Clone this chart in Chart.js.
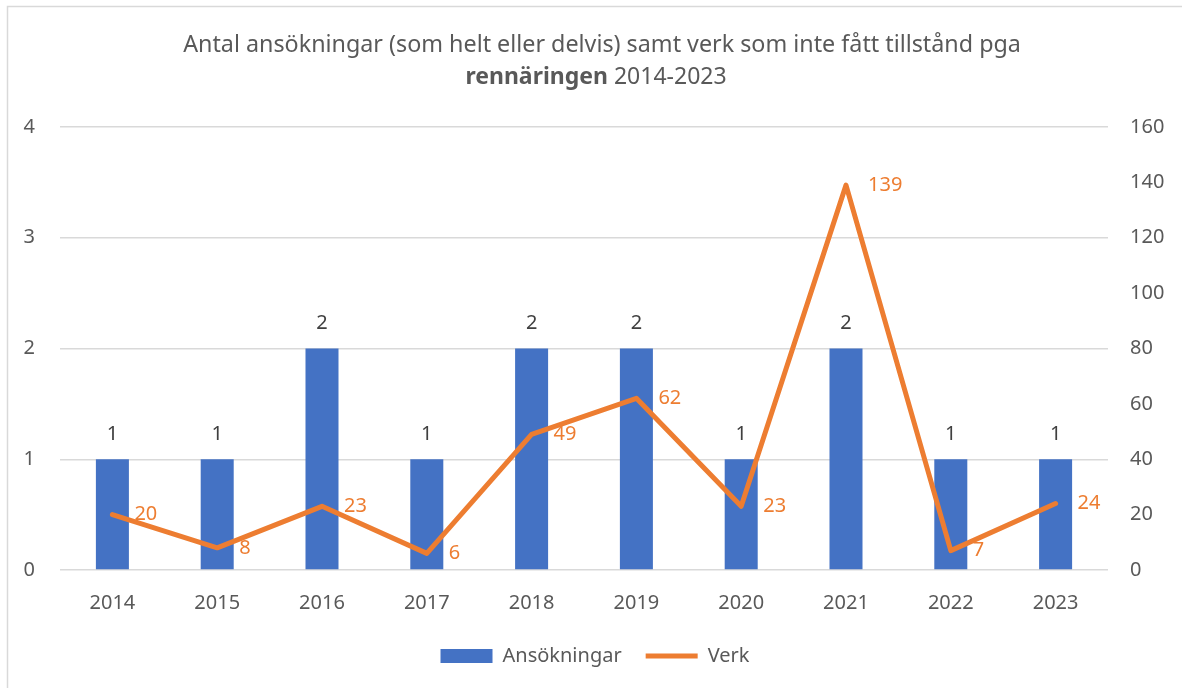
<!DOCTYPE html>
<html>
<head>
<meta charset="utf-8">
<script src="https://cdn.jsdelivr.net/npm/chart.js@4.4.1/dist/chart.umd.min.js"></script>
<style>
  body { margin: 0; background: #fff; }
  #wrap { width: 1182px; height: 688px; position: relative; }
</style>
</head>
<body>
<div id="wrap"><canvas id="chart" width="1182" height="688"></canvas></div>
<script>
// data
const years = ['2014', '2015', '2016', '2017', '2018', '2019', '2020', '2021', '2022', '2023'];
const ansokningar = [1, 1, 2, 1, 2, 2, 1, 2, 1, 1];
const verk = [20, 8, 23, 6, 49, 62, 23, 139, 7, 24];
const leftTicks = [0, 1, 2, 3, 4];
const rightTicks = [0, 20, 40, 60, 80, 100, 120, 140, 160];

const FONT = '"Noto Sans", "Open Sans", sans-serif';
const GREY = '#595959';
const BLUE = '#4472C4';
const ORANGE = '#ED7D31';

// frame + two-line title with the bold word
const framePlugin = {
  id: 'frame',
  beforeDraw(chart) {
    const ctx = chart.ctx;
    ctx.save();
    ctx.strokeStyle = '#d9d9d9';
    ctx.lineWidth = 1.5;
    ctx.strokeRect(7.5, 6.5, 1300, 800);
    ctx.restore();
  },
  afterDraw(chart) {
    const ctx = chart.ctx;
    ctx.save();
    ctx.fillStyle = GREY;
    ctx.textBaseline = 'middle';
    ctx.textAlign = 'left';
    ctx.font = '23.3px ' + FONT;
    const line1 = 'Antal ansökningar (som helt eller delvis) samt verk som inte fått tillstånd pga';
    let w = ctx.measureText(line1).width;
    ctx.fillText(line1, 602 - w / 2, 45);
    ctx.font = 'bold 23px ' + FONT;
    const b = 'rennäringen';
    const bw = ctx.measureText(b).width;
    ctx.font = '23px ' + FONT;
    const rest = ' 2014-2023';
    const rw = ctx.measureText(rest).width;
    const x0 = 596 - (bw + rw) / 2;
    ctx.font = 'bold 23px ' + FONT;
    ctx.fillText(b, x0, 77);
    ctx.font = '23px ' + FONT;
    ctx.fillText(rest, x0 + bw, 77);
    ctx.restore();
  }
};

// value labels: above the bars, right of the line points
const labelPlugin = {
  id: 'valueLabels',
  afterDatasetsDraw(chart) {
    const ctx = chart.ctx;
    ctx.save();
    ctx.font = '20px ' + FONT;
    ctx.textBaseline = 'middle';
    const barMeta = chart.getDatasetMeta(0);
    ctx.fillStyle = '#404040';
    ctx.textAlign = 'center';
    barMeta.data.forEach((el, i) => {
      ctx.fillText(String(ansokningar[i]), el.x, el.y - 25);
    });
    const lineMeta = chart.getDatasetMeta(1);
    ctx.fillStyle = ORANGE;
    ctx.textAlign = 'left';
    lineMeta.data.forEach((el, i) => {
      ctx.fillText(String(verk[i]), el.x + 22, el.y);
    });
    ctx.restore();
  }
};

new Chart(document.getElementById('chart'), {
  data: {
    labels: years,
    datasets: [
      {
        type: 'bar',
        label: 'Ansökningar',
        data: ansokningar,
        backgroundColor: BLUE,
        yAxisID: 'y',
        barPercentage: 0.63,
        categoryPercentage: 0.5,
        pointStyle: 'rect',
        order: 1
      },
      {
        type: 'line',
        label: 'Verk',
        data: verk,
        borderColor: ORANGE,
        backgroundColor: ORANGE,
        borderWidth: 5,
        borderCapStyle: 'round',
        borderJoinStyle: 'round',
        tension: 0,
        pointRadius: 0,
        pointStyle: 'line',
        yAxisID: 'y1',
        order: 0
      }
    ]
  },
  options: {
    responsive: false,
    animation: false,
    layout: { padding: { top: 127, left: 8, right: 0, bottom: 12 } },
    scales: {
      x: {
        grid: { display: false },
        border: { display: false },
        afterFit(scale) { scale.height = 52; },
        ticks: { color: GREY, font: { family: FONT, size: 20 }, padding: 13 }
      },
      y: {
        position: 'left',
        min: 0,
        max: 4,
        afterBuildTicks(scale) { scale.ticks = leftTicks.map(v => ({ value: v })); },
        afterFit(scale) { scale.width = 52; },
        grid: { color: '#d9d9d9', lineWidth: 1.5, drawTicks: false },
        border: { display: false },
        ticks: { color: GREY, font: { family: FONT, size: 20 }, padding: 25 }
      },
      y1: {
        position: 'right',
        min: 0,
        max: 160,
        afterBuildTicks(scale) { scale.ticks = rightTicks.map(v => ({ value: v })); },
        afterFit(scale) { scale.width = 74; },
        grid: { display: false, drawTicks: false },
        border: { display: false },
        ticks: { color: GREY, font: { family: FONT, size: 20 }, padding: 22 }
      }
    },
    plugins: {
      legend: {
        position: 'bottom',
        labels: {
          usePointStyle: true,
          pointStyleWidth: 52,
          boxHeight: 14,
          color: GREY,
          font: { family: FONT, size: 20 },
          padding: 24,
          sort: (a, b) => a.datasetIndex - b.datasetIndex
        }
      },
      tooltip: { enabled: false }
    }
  },
  plugins: [framePlugin, labelPlugin]
});
</script>
</body>
</html>
